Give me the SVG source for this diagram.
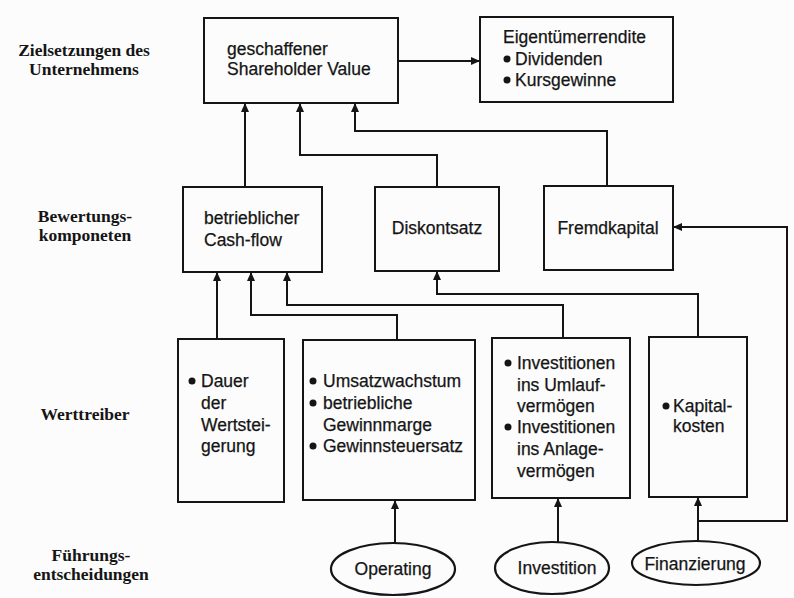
<svg xmlns="http://www.w3.org/2000/svg" width="794" height="598" viewBox="0 0 794 598">
  <style>
    .box { fill: none; stroke: #151515; stroke-width: 2; }
    .oval { fill: none; stroke: #151515; stroke-width: 2.2; }
    .t { font-family: "Liberation Sans", Arial, sans-serif; font-size: 17.5px; fill: #151515; stroke: #151515; stroke-width: 0.25; }
    .lbl { font-family: "Liberation Serif", "Times New Roman", serif; font-weight: bold; font-size: 17.5px; fill: #151515; text-anchor: middle; }
    .mid { text-anchor: middle; }
    .dot { fill: #151515; }
    .wire { fill: none; stroke: #151515; stroke-width: 2; marker-end: url(#arr); }
  </style>
  <defs>
    <marker id="arr" markerUnits="userSpaceOnUse" markerWidth="9" markerHeight="8" refX="9" refY="4" orient="auto">
      <path d="M0,0 L9,4 L0,8 z" fill="#151515"/>
    </marker>
  </defs>
  <rect width="794" height="598" fill="#fcfcfc"/>

  <!-- level labels -->
  <g id="levels">
    <text class="lbl" x="84" y="56">Zielsetzungen des</text>
    <text class="lbl" x="84" y="75">Unternehmens</text>
    <text class="lbl" x="85" y="222">Bewertungs-</text>
    <text class="lbl" x="85" y="241">komponeten</text>
    <text class="lbl" x="85" y="420">Werttreiber</text>
    <text class="lbl" x="91" y="561">Führungs-</text>
    <text class="lbl" x="91" y="580">entscheidungen</text>
  </g>

  <!-- connectors -->
  <g id="connectors">
    <path class="wire" d="M398,61 H480"/>
    <path class="wire" d="M245,187 V103"/>
    <path class="wire" d="M437,187 V155 H300 V103"/>
    <path class="wire" d="M607,186 V131 H355 V103"/>
    <path class="wire" d="M217,339 V272"/>
    <path class="wire" d="M397,340 V315 H251 V272"/>
    <path class="wire" d="M563,338 V305 H287 V272"/>
    <path class="wire" d="M698,337 V294 H437 V271"/>
    <path class="wire" d="M395,543 V500"/>
    <path class="wire" d="M558,542 V498"/>
    <path class="wire" d="M698,541 V497"/>
    <path class="wire" d="M698,521 H787 V227 H673"/>
  </g>

  <g id="shareholder-value">
    <rect class="box" x="204" y="18" width="194" height="85"/>
    <text class="t" x="227" y="55">geschaffener</text>
    <text class="t" x="227" y="75">Shareholder Value</text>
  </g>

  <g id="eigentuemerrendite">
    <rect class="box" x="480" y="17" width="193" height="85"/>
    <text class="t" x="503" y="43">Eigentümerrendite</text>
    <circle class="dot" cx="507" cy="59" r="3.5"/>
    <text class="t" x="515" y="65">Dividenden</text>
    <circle class="dot" cx="507" cy="80" r="3.5"/>
    <text class="t" x="515" y="86">Kursgewinne</text>
  </g>

  <g id="cashflow">
    <rect class="box" x="183" y="187" width="139" height="85"/>
    <text class="t" x="204" y="224">betrieblicher</text>
    <text class="t" x="204" y="246">Cash-flow</text>
  </g>

  <g id="diskontsatz">
    <rect class="box" x="375" y="187" width="124" height="84"/>
    <text class="t mid" x="437" y="234">Diskontsatz</text>
  </g>

  <g id="fremdkapital">
    <rect class="box" x="544" y="186" width="129" height="84"/>
    <text class="t mid" x="608" y="234">Fremdkapital</text>
  </g>

  <g id="dauer">
    <rect class="box" x="178" y="339" width="106" height="163"/>
    <circle class="dot" cx="192" cy="381" r="3.5"/>
    <text class="t" x="201" y="387">Dauer</text>
    <text class="t" x="201" y="409">der</text>
    <text class="t" x="201" y="431">Wertstei-</text>
    <text class="t" x="201" y="452">gerung</text>
  </g>

  <g id="umsatz">
    <rect class="box" x="303" y="340" width="172" height="160"/>
    <circle class="dot" cx="313" cy="381" r="3.5"/>
    <text class="t" x="323" y="387">Umsatzwachstum</text>
    <circle class="dot" cx="313" cy="403" r="3.5"/>
    <text class="t" x="323" y="409">betriebliche</text>
    <text class="t" x="323" y="431">Gewinnmarge</text>
    <circle class="dot" cx="313" cy="446" r="3.5"/>
    <text class="t" x="323" y="452">Gewinnsteuersatz</text>
  </g>

  <g id="investitionen">
    <rect class="box" x="492" y="338" width="138" height="160"/>
    <circle class="dot" cx="508" cy="363" r="3.5"/>
    <text class="t" x="517" y="369">Investitionen</text>
    <text class="t" x="517" y="391">ins Umlauf-</text>
    <text class="t" x="517" y="412">vermögen</text>
    <circle class="dot" cx="508" cy="427" r="3.5"/>
    <text class="t" x="517" y="433">Investitionen</text>
    <text class="t" x="517" y="455">ins Anlage-</text>
    <text class="t" x="517" y="477">vermögen</text>
  </g>

  <g id="kapitalkosten">
    <rect class="box" x="649" y="337" width="98" height="160"/>
    <circle class="dot" cx="666" cy="406" r="3.5"/>
    <text class="t" x="673" y="412">Kapital-</text>
    <text class="t" x="673" y="432">kosten</text>
  </g>

  <g id="operating">
    <ellipse class="oval" cx="393" cy="569" rx="62" ry="26"/>
    <text class="t mid" x="393" y="575">Operating</text>
  </g>

  <g id="investition">
    <ellipse class="oval" cx="552" cy="568" rx="57" ry="26"/>
    <text class="t mid" x="557" y="574">Investition</text>
  </g>

  <g id="finanzierung">
    <ellipse class="oval" cx="696" cy="563" rx="64" ry="22"/>
    <text class="t mid" x="695" y="570">Finanzierung</text>
  </g>
</svg>
